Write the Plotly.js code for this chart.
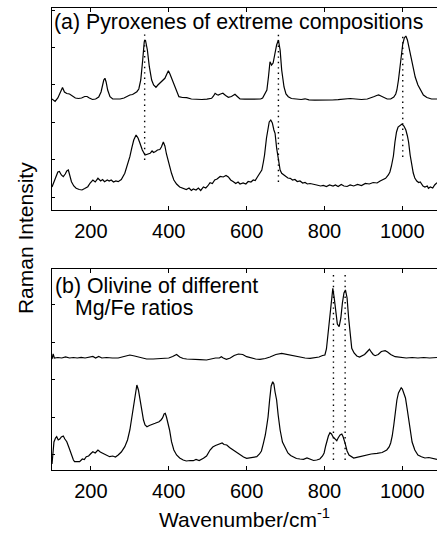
<!DOCTYPE html>
<html>
<head>
<meta charset="utf-8">
<script src="https://cdn.plot.ly/plotly-3.0.1.min.js"></script>
<style>
html,body{margin:0;padding:0;overflow:hidden;background:#fff;}
#chart{width:437px;height:534px;}
</style>
</head>
<body>
<div id="chart"></div>
<script>
// ---------- Panel (a): pyroxenes of extreme compositions ----------
const pxA_wn = [100,108,115,122,127,132,138,145,152,160,168,176,184,190,196,204,212,220,226,230,233,236,239,243,249,256,265,275,285,293,300,307,313,318,323,328,333,337,340,343,345,350,356,361,367,372,378,384,390,395,399,403,408,412,416,421,426,435,446,458,470,485,498,505,510,515,519,523,527,533,539,546,553,561,566,570,576,583,595,608,620,630,636,641,645,649,652,656,660,664,668,672,677,681.6,686,690,696,701,707,715,729,740,750,760,775,790,805,820,835,850,866,880,895,910,920,928,934,939,945,952,961,970,978,983,986,990,994,998,1001,1005,1009,1013,1016,1020,1026,1033,1040,1046,1054,1063,1075,1089];
const pxA_int = [111,108.5,112,118,122.5,118,116.5,116,114.5,112,111.5,112,113.5,113.5,112,110.5,111,113,118,125,130,131.7,128,120,113.3,111,110.8,111,112,114,115,115.5,117,118.3,121,130,150,168.3,170,165,160,143.3,130,125,122.7,125,127.3,129,131.7,136,139.3,136,131,126,121.7,117,113.3,112.5,112.3,111,110.5,110.5,110.8,111,111.7,114,116.7,115.5,115,116,116.7,114.5,112.7,113.5,115,115.7,113.5,111,110.8,110.7,110.5,110.5,111,112,114.5,118,120,133,148.3,145,147,155,165,170,160,140,123,116,113.3,111.5,110.7,110.5,111.2,110.2,109.8,109.7,109.8,110,110.3,110.8,111.5,111,110.5,111,112,113.5,114.5,115,114,112.3,111,111,113,116,120,130,143,156,166,172,174,170,164,157,146,133,125,120,115,112.5,111,111];

const pxB_wn = [100,104,110,115,119,124,129,134,138,142,146,150,156,162,170,177,184,192,198,205,211,218,225,230,235,242,247,252,258,264,270,278,287,294,300,305,310,316,321,326,332,339,345,352,357,361,366,371,377,381,386,390,394,400,407,413,420,428,437,445,452,458,463,470,476,482,489,495,500,506,512,518,524,532,540,547,553,559,566,572,578,583,591,598,604,611,617,622,628,634,639,643,646,651,655,658,662,666,670,673,677,682,686,690,695,700,706,712,718,724,730,737,744,750,756,763,771,780,790,797,805,813,822,828,835,843,850,858,866,875,885,895,905,915,925,935,943,950,957,964,968,972,977,981,985,989,994,999,1004,1009,1013,1016,1020,1024,1028,1032,1037,1042,1046,1053,1058,1064,1067,1072,1078,1083,1089];
const pxB_int = [23,28,33,38,38.5,35,33.3,36,39,40,34,28.3,24,21.7,20.5,20,21.5,23.3,27,30,28,31.7,29,30.5,28.3,30,29,30,28,29,28.3,30.5,36.7,45,53.3,62,70,75,72,66.7,60,55,56,56.7,59,57.5,58.5,60,60.5,63,68,64,56,46,36.7,30,26,23,21.7,20.5,22,19.5,21,20,22,19.5,23,22,24,27.3,26.5,30,31,33.5,33,34.5,33,30,28.3,26.5,28,26,27,26,28.5,28,30,29.5,33.3,36.7,40,48,55,72,84,88,90,87,80,76.7,62,48,40,36.7,35,33.3,32,31.7,30,30.5,28.5,29,27,27.5,26,26.5,25.5,25,24,24.5,23.5,25,24,25,23.5,25.5,24,23.5,25,24,25.5,24.5,26.5,26,27.5,27,29,30,31.7,35,38,44,54,68,78,83,85,86,84,80,74,68,55,45,37,32,29,27.5,28,24,23,24,21.7,23,22,25,27.3];

// reference lines (dotted) in panel (a)
const dotA_wn  = [338, 681.6, 1001];
const dotA_top = [178, 178, 175];
const dotA_bot = [50, 28, 53];

// ---------- Panel (b): olivine of different Mg/Fe ratios ----------
const olA_wn = [100,103,106,115,125,135,145,155,165,175,185,195,205,212,220,228,240,255,270,285,300,312,325,343,360,380,400,410,420,428,437,446,460,480,497,510,520,530,535,540,548,558,568,579,590,600,612,623,634,648,660,675,690,705,720,735,750,763,775,786,795,801,805,809,813,817,821.4,825,829,833,837.6,842,846,850,853.8,858,862,866,870,876,883,890,897,903,909,915.5,920,925,930,938,946,955.8,962,970,981.5,995,1010,1025,1040,1055,1070,1089];
const olA_int = [111,116,112,112.5,112,113,112,112.5,112,112.7,112,112.5,113.5,112,113.5,112,112.5,112,112,113.5,115,114,112.5,111,111,111.5,112,113.5,115.5,113,111.5,111,110.5,110.3,110,111,112,112,113.3,112,110.7,112,114.5,116,115.5,113.3,112,111,110.7,111.5,113,115.5,116.7,115.5,114,113,112,111.7,112,113,114.5,115,121,136,155,172,181.7,172,157,146,143.3,152,167,177,180,172,152,135,121.7,117,114,113,114,115.5,118,120.7,118,115.5,114.3,115.5,118.5,119.3,118,115.5,113.3,112.7,112,112.5,112,112.5,112,112.5];

const olB_wn = [100,102,105,109,112,116,120,124,129,133,138,144,150,155,158,165,171,178,183,188,194,200,205,211,218,224,231,238,244,248,256,263,270,278,287,294,300,305,310,314,318,322,326,330,335,339,344,350,355,360,365,370,375,380,384,388,391,394,398,402,407,413,420,428,437,445,455,463,470,478,489,497,506,513,520,527,532,537,542,549,556,566,575,583,592,600,608,618,626,633,638,643,648,652,655,659,663,667,670,673,677,681,686,692,699,706,713,720,728,737,746,755,765,772,780,788,795,799,803,807,810,814,818,822,827,831.6,835,840,844.5,848,853,858,863,868,875,883,892,900,909,920,935,948,960,966,970,974,978,982,986,990,994,997,1000,1004,1008,1012,1016,1020,1025,1032,1040,1049,1058,1068,1075,1082,1089];
const olB_int = [6,18,28,32,33.3,30,31,33,34,31,28.3,22,15,10,8.3,8.5,8.3,11,10.5,13.3,14,16.5,18.3,17,20,18,16.7,15.5,14.5,13.3,14,13,15,18,23.3,30,40,52,66.7,78,85,80,70,60,50,45,43.3,44.5,45.5,46,46.7,47.5,48.3,50,52,56,56.7,53,47,40,28.3,20,15,12,10,9,9.5,9.3,10.5,9.5,11.7,14,20,23,24.5,25.5,26.7,27,25.5,25,22.5,20,17.5,15,13,11.7,12,12.5,13.3,16,19,26.7,35,45,53,70,84,88.3,86,78,70,55,40,28,21.7,17,14.5,13.3,11.5,11,10.7,12,10.5,9.5,10,11,14,17,24,31,34,37.3,36,33,30.5,29.3,32,35,36,33,26.7,19,15,13.5,12,12.7,13.5,14.5,15,16,16.7,17.5,20,23,27,34,45,58,70,77,81,82.3,81,77,72,62,50,38,28,20,15,13.3,12,12.5,11.7,11,10.7];

// reference lines (dotted) in panel (b)
const dotB_wn  = [823, 853];
const dotB_top = [199, 199];
const dotB_bot = [10, 10];

const tickVals = [200, 400, 600, 800, 1000];
const labelA = '(a) Pyroxenes of extreme compositions';
const labelB1 = '(b) Olivine of different';
const labelB2 = 'Mg/Fe ratios';
const xTitle = 'Wavenumber/cm<sup>-1</sup>';
const yTitle = 'Raman Intensity';

// ---------- build ----------
const FONT = 'Liberation Sans, Arial, Helvetica, sans-serif';
const specLine = {color: '#000', width: 1.2};
const dotLine = {color: '#000', width: 1.4, dash: '1.4px,4px'};

function dotted(wn, top, bot) {
  const x = [], y = [];
  wn.forEach((w, i) => { x.push(w, w, null); y.push(bot[i], top[i], null); });
  return {x, y};
}
const dA = dotted(dotA_wn, dotA_top, dotA_bot);
const dB = dotted(dotB_wn, dotB_top, dotB_bot);

const data = [
  {x: pxA_wn, y: pxA_int, xaxis: 'x2', yaxis: 'y2', mode: 'lines', line: specLine},
  {x: pxB_wn, y: pxB_int, xaxis: 'x2', yaxis: 'y2', mode: 'lines', line: specLine},
  {x: dA.x, y: dA.y, xaxis: 'x2', yaxis: 'y2', mode: 'lines', line: dotLine, connectgaps: false},
  {x: olA_wn, y: olA_int, xaxis: 'x', yaxis: 'y', mode: 'lines', line: specLine},
  {x: olB_wn, y: olB_int, xaxis: 'x', yaxis: 'y', mode: 'lines', line: specLine},
  {x: dB.x, y: dB.y, xaxis: 'x', yaxis: 'y', mode: 'lines', line: dotLine, connectgaps: false}
];

const xCommon = {
  range: [100, 1089], tickmode: 'array', tickvals: tickVals,
  ticks: 'inside', ticklen: 4, tickwidth: 1, tickcolor: '#000',
  showline: true, linecolor: '#000', linewidth: 1, mirror: 'ticks',
  showgrid: false, zeroline: false, tickfont: {size: 20, color: '#000'},
  ticklabelstandoff: 3
};
const yCommon = {
  showticklabels: false, ticks: 'inside', ticklen: 3, tickwidth: 1, tickcolor: '#000',
  showline: true, linecolor: '#000', linewidth: 1, mirror: false,
  showgrid: false, zeroline: false, dtick: 37.5
};

const layout = {
  width: 437, height: 534,
  margin: {l: 52, r: 0, t: 8, b: 64},
  paper_bgcolor: '#fff', plot_bgcolor: '#fff',
  showlegend: false,
  font: {family: FONT, size: 20, color: '#000'},
  xaxis: Object.assign({}, xCommon, {anchor: 'y', domain: [0, 1],
    title: {text: xTitle, font: {size: 21}, standoff: 11}}),
  xaxis2: Object.assign({}, xCommon, {anchor: 'y2', domain: [0, 1]}),
  yaxis: Object.assign({}, yCommon, {domain: [0, 0.4351], range: [0, 201], tick0: 15}),
  yaxis2: Object.assign({}, yCommon, {domain: [0.5628, 1], range: [0, 202], tick0: 12.5}),
  annotations: [
    {xref: 'x2 domain', yref: 'y2 domain', x: 0, y: 1, xanchor: 'left', yanchor: 'top',
     text: labelA, showarrow: false, font: {size: 21.3}},
    {xref: 'x domain', yref: 'y domain', x: 0, y: 1, xanchor: 'left', yanchor: 'top',
     text: labelB1, showarrow: false, font: {size: 21.3}, xshift: 1, yshift: -3},
    {xref: 'x domain', yref: 'y domain', x: 0, y: 1, xanchor: 'left', yanchor: 'top',
     text: labelB2, showarrow: false, font: {size: 21.3}, xshift: 21, yshift: -25},
    {xref: 'paper', yref: 'paper', x: -0.0701, y: 0.502, xanchor: 'center', yanchor: 'middle',
     text: yTitle, textangle: -90, showarrow: false, font: {size: 21}}
  ]
};

Plotly.newPlot('chart', data, layout, {staticPlot: true, displayModeBar: false});
</script>
</body>
</html>
